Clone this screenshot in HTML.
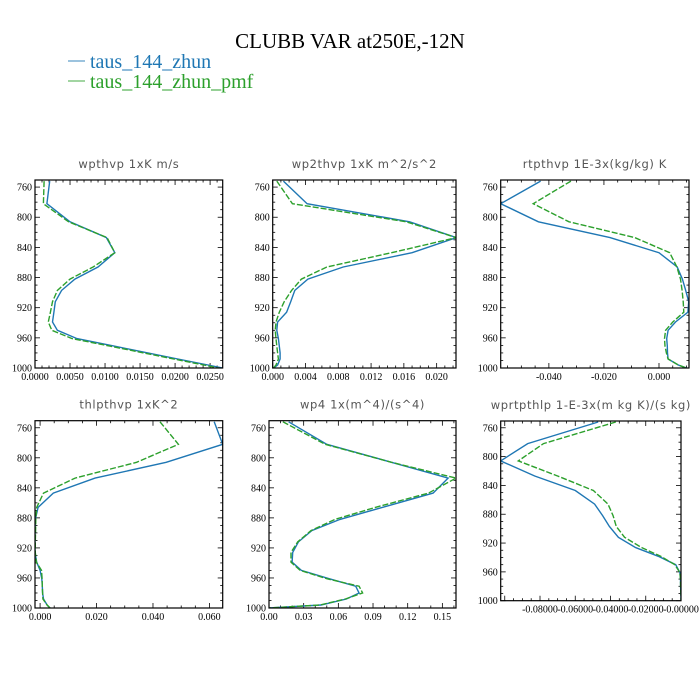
<!DOCTYPE html>
<html><head><meta charset="utf-8"><style>
html,body{margin:0;padding:0;background:#fff;}
svg{display:block;}
.ttl{font-family:"Liberation Serif",serif;}
.pt{font-family:"DejaVu Sans","Liberation Sans",sans-serif;font-size:11.5px;fill:#555;}
.tk{font-family:"Liberation Serif",serif;font-size:10px;fill:#000;}
</style></head><body>
<svg id="chart" width="700" height="700" viewBox="0 0 700 700" xmlns="http://www.w3.org/2000/svg">
<text class="ttl" x="350" y="48" font-size="21" text-anchor="middle">CLUBB VAR at250E,-12N</text>
<g>
<g><line x1="68" y1="61" x2="85" y2="61" stroke="#1f77b4" stroke-width="1.2" opacity="0.7"/><text class="ttl" x="90" y="68" font-size="20" fill="#1f77b4">taus_144_zhun</text></g>
<g><line x1="68" y1="81" x2="85" y2="81" stroke="#2ca02c" stroke-width="1.2" opacity="0.7"/><text class="ttl" x="90" y="88" font-size="20" fill="#2ca02c">taus_144_zhun_pmf</text></g>
</g>
</svg>
<script>
const levels = [752,782,806,827,847,866,882,897,912,926,939,950,961,971,980,988,996,1000];
const yTicks = [760,800,840,880,920,960,1000];
const titles = ["wpthvp  1xK m/s","wp2thvp  1xK m^2/s^2","rtpthvp  1E-3x(kg/kg) K","thlpthvp  1xK^2","wp4  1x(m^4)/(s^4)","wprtpthlp  1-E-3x(m kg K)/(s kg)"];
const zhun1 = [0.0021,0.0017,0.005,0.0102,0.0114,0.009,0.0057,0.0038,0.0029,0.0027,0.0025,0.0032,0.006,0.0113,0.0161,0.0204,0.0247,0.0268];
const pmf1 = [0.0013,0.0012,0.0048,0.0103,0.0114,0.0083,0.005,0.0032,0.0025,0.0022,0.0019,0.0024,0.0053,0.0107,0.0155,0.0198,0.0241,0.0262];
const zhun2 = [0.0013,0.0042,0.0167,0.0224,0.017,0.0086,0.0043,0.0027,0.0022,0.0017,0.0006,0.0005,0.0007,0.0008,0.0009,0.0009,0.0006,0.0001];
const pmf2 = [0.0005,0.0024,0.0163,0.0224,0.0145,0.0066,0.0035,0.0023,0.0014,0.0008,0.0004,0.0003,0.0004,0.0005,0.0006,0.0007,0.0004,0.0001];
const zhun3 = [-0.043,-0.0575,-0.0438,-0.0178,0.0,0.0066,0.0085,0.0097,0.0108,0.0105,0.006,0.0033,0.0028,0.003,0.0031,0.0033,0.007,0.010];
const pmf3 = [-0.032,-0.0457,-0.0327,-0.0088,0.0039,0.0065,0.0078,0.0084,0.0088,0.009,0.005,0.0024,0.002,0.0022,0.0027,0.0033,0.007,0.010];
const zhun4 = [0.0617,0.0647,0.0447,0.0195,0.0047,-0.0007,-0.0017,-0.0018,-0.0018,-0.0018,-0.0012,0.0,0.0006,0.0008,0.0009,0.0012,0.0025,0.0035];
const pmf4 = [0.0425,0.049,0.0342,0.0124,0.0012,-0.0012,-0.0015,-0.0016,-0.0017,-0.0017,-0.0013,0.0005,0.0007,0.0008,0.0009,0.0010,0.0025,0.0035];
const zhun5 = [0.017,0.050,0.106,0.155,0.142,0.098,0.0614,0.037,0.0254,0.0205,0.020,0.028,0.052,0.075,0.078,0.067,0.045,0.0];
const pmf5 = [0.012,0.0485,0.106,0.1618,0.138,0.092,0.057,0.0363,0.0248,0.019,0.019,0.027,0.050,0.078,0.081,0.066,0.044,0.0];
const zhun6 = [-0.047,-0.087,-0.1023,-0.083,-0.060,-0.049,-0.0444,-0.0406,-0.0355,-0.026,-0.0123,-0.003,-0.0006,-0.0003,-0.0002,-0.0001,0,0];
const pmf6 = [-0.037,-0.078,-0.0923,-0.070,-0.0497,-0.0414,-0.0385,-0.0367,-0.032,-0.0225,-0.011,-0.0035,-0.0006,-0.0003,-0.0002,-0.0001,0,0];
const xTickLabels1 = ["0.0000","0.0050","0.0100","0.0150","0.0200","0.0250"];
const xTickLabels2 = ["0.000","0.004","0.008","0.012","0.016","0.020"];
const xTickLabels3 = ["-0.040","-0.020","0.000"];
const xTickLabels4 = ["0.000","0.020","0.040","0.060"];
const xTickLabels5 = ["0.00","0.03","0.06","0.09","0.12","0.15"];
const xTickLabels6 = ["-0.08000","-0.06000","-0.04000","-0.02000","-0.00000"];

const NS="http://www.w3.org/2000/svg";
const svg=document.getElementById('chart');
function mk(tag,attrs,parent){const e=document.createElementNS(NS,tag);for(const k in attrs)e.setAttribute(k,attrs[k]);parent.appendChild(e);return e;}
const panels=[
 {x0:35,x1:222.7,y0:180,y1:368,xmin:0,xmax:0.0268,minor:0.001,zhun:zhun1,pmf:pmf1,labels:xTickLabels1,title:titles[0]},
 {x0:272.7,x1:456,y0:180,y1:368,xmin:0,xmax:0.02236,minor:0.001,zhun:zhun2,pmf:pmf2,labels:xTickLabels2,title:titles[1]},
 {x0:500.7,x1:689,y0:180,y1:368,xmin:-0.0575,xmax:0.0109,minor:0.005,zhun:zhun3,pmf:pmf3,labels:xTickLabels3,title:titles[2]},
 {x0:35,x1:222.7,y0:420.7,y1:608,xmin:-0.0018,xmax:0.0647,minor:0.005,zhun:zhun4,pmf:pmf4,labels:xTickLabels4,title:titles[3]},
 {x0:269,x1:456,y0:420.7,y1:608,xmin:0,xmax:0.1618,minor:0.01,zhun:zhun5,pmf:pmf5,labels:xTickLabels5,title:titles[4]},
 {x0:500.7,x1:681,y0:421,y1:600.7,xmin:-0.1023,xmax:0,minor:0.005,zhun:zhun6,pmf:pmf6,labels:xTickLabels6,title:titles[5]}
];
const PMIN=750.6,PMAX=1000;
panels.forEach((p,i)=>{
 const g=mk('g',{},svg);
 
 
 const xs=v=>p.x0+(v-p.xmin)/(p.xmax-p.xmin)*(p.x1-p.x0);
 const ys=v=>p.y0+(v-PMIN)/(PMAX-PMIN)*(p.y1-p.y0);
 const t=mk('text',{class:'pt',x:(p.x0+p.x1)/2,y:p.y0-12,'text-anchor':'middle','letter-spacing':'0.6'},g);
 t.textContent=p.title;
 
 
 // y ticks
 for(let v=760;v<=1000;v+=10){const y=ys(v);const maj=(v-760)%40===0;const L=maj?5:2.5;
  mk('line',{x1:p.x0,y1:y,x2:p.x0+L,y2:y,stroke:'#000','stroke-width':0.8},g);
  mk('line',{x1:p.x1,y1:y,x2:p.x1-L,y2:y,stroke:'#000','stroke-width':0.8},g);}
 yTicks.forEach(v=>{const tt=mk('text',{class:'tk',x:p.x0-3,y:ys(v)+3.5,'text-anchor':'end'},g);tt.textContent=v;
  
  });
 // x labels & ticks
 const vals=p.labels.map(s=>parseFloat(s));
 const step=vals.length>1?vals[1]-vals[0]:1;
 const start=Math.ceil(p.xmin/p.minor-1e-6)*p.minor;
 for(let v=start;v<=p.xmax+1e-9;v+=p.minor){const x=xs(v);const maj=Math.abs(Math.round(v/step)*step-v)<p.minor/3;const L=maj?5:2.5;
  mk('line',{x1:x,y1:p.y1,x2:x,y2:p.y1-L,stroke:'#000','stroke-width':0.8},g);
  mk('line',{x1:x,y1:p.y0,x2:x,y2:p.y0+L,stroke:'#000','stroke-width':0.8},g);}
 p.labels.forEach((s,k)=>{const tt=mk('text',{class:'tk',x:xs(vals[k]),y:p.y1+12,'text-anchor':'middle'},g);tt.textContent=s;
  
  });
 // clip
 mk('clipPath',{id:'c'+i},g).appendChild(Object.assign(document.createElementNS(NS,'rect'),{}));
 const cr=g.querySelector('#c'+i+' rect');cr.setAttribute('x',p.x0);cr.setAttribute('y',p.y0);cr.setAttribute('width',p.x1-p.x0);cr.setAttribute('height',p.y1-p.y0);
 const d1=p.zhun.map((v,k)=>(k?'L':'M')+xs(v).toFixed(1)+' '+ys(levels[k]).toFixed(1)).join('');
 const d2=p.pmf.map((v,k)=>(k?'L':'M')+xs(v).toFixed(1)+' '+ys(levels[k]).toFixed(1)).join('');
 const l1=mk('path',{d:d1,fill:'none',stroke:'#1f77b4','stroke-width':1.4,'clip-path':'url(#c'+i+')'},g);
 
 
 const l2=mk('path',{d:d2,fill:'none',stroke:'#2ca02c','stroke-width':1.4,'stroke-dasharray':'6 2','clip-path':'url(#c'+i+')'},g);
 
 
 const fr=mk('rect',{x:p.x0,y:p.y0,width:p.x1-p.x0,height:p.y1-p.y0,fill:'none',stroke:'#000','stroke-width':1.2},g);
 
 
});
</script>
</body></html>
